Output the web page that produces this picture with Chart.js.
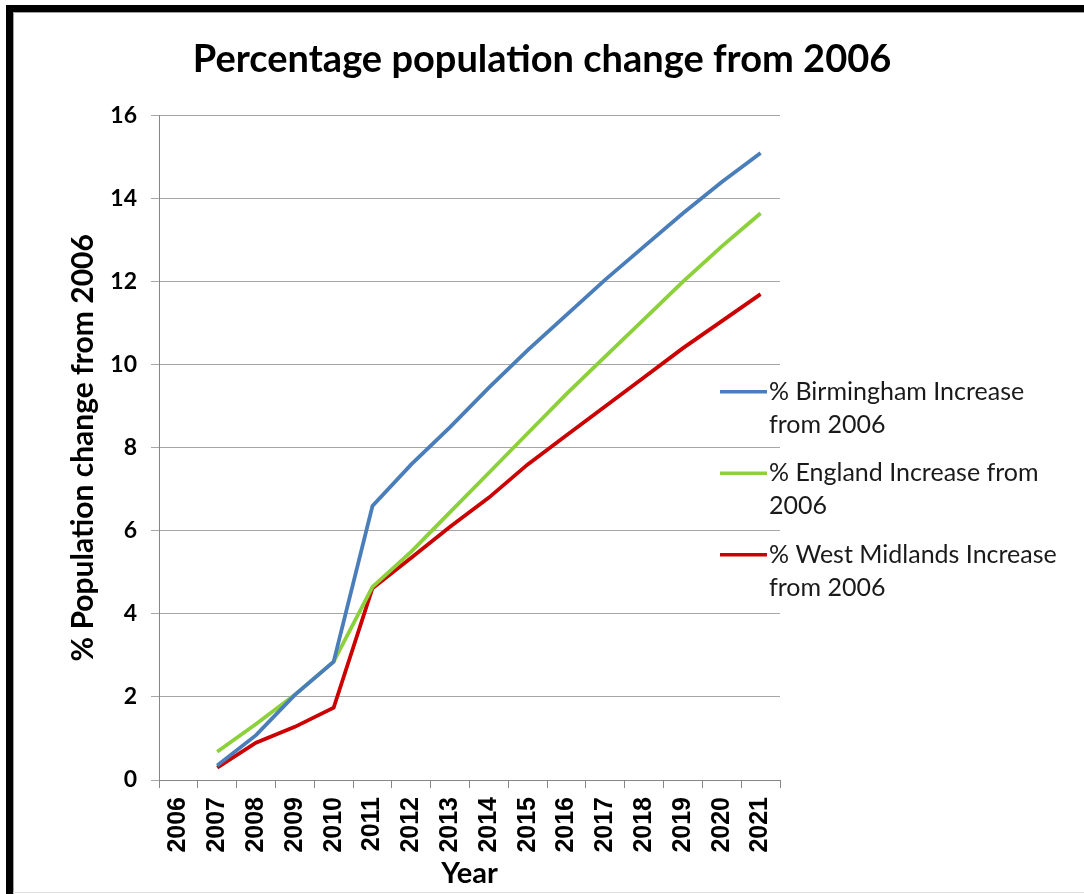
<!DOCTYPE html>
<html><head><meta charset="utf-8">
<script src="https://cdn.jsdelivr.net/npm/chart.js@4.4.1/dist/chart.umd.min.js"></script>
<style>
html,body{margin:0;padding:0;background:#fff;width:1084px;height:894px;overflow:hidden;}
#wrap{position:absolute;left:0;top:0;width:1084px;height:894px;}
.bk{position:absolute;background:#000;}
.gl{position:absolute;background:#a0a0a0;}
</style></head><body>
<div id="wrap"><canvas id="c" width="1084" height="894"></canvas></div>
<div class="bk" style="left:6px;top:5px;width:1078px;height:7px"></div>
<div class="bk" style="left:6px;top:5px;width:7px;height:889px"></div>
<div class="gl" style="left:13px;top:12px;width:1071px;height:1px"></div>
<div class="gl" style="left:13px;top:12px;width:1px;height:882px"></div>
<div class="gl" style="left:13px;top:892px;width:1071px;height:1px;background:#e0e0e0"></div>
<script>
const years = ['2006','2007','2008','2009','2010','2011','2012','2013','2014','2015','2016','2017','2018','2019','2020','2021'];
const birmingham = [null,0.35,1.08,2.05,2.85,6.6,7.6,8.5,9.45,10.35,11.2,12.05,12.85,13.65,14.4,15.1];
const england = [null,0.68,1.35,2.05,2.85,4.65,5.5,6.45,7.4,8.35,9.3,10.2,11.1,12.0,12.85,13.65];
const westMidlands = [null,0.3,0.9,1.28,1.74,4.62,5.35,6.1,6.8,7.6,8.3,9.0,9.7,10.4,11.05,11.7];
const seriesLabels = [['% Birmingham Increase','from 2006'],['% England Increase from','2006'],['% West Midlands Increase','from 2006']];
const yTicks = [0,2,4,6,8,10,12,14,16];
const colors = ['#4a7ebb','#8cd03c','#cc0000'];

const legendPlugin = {
  id:'sideLegend',
  afterDraw(chart){
    const ctx = chart.ctx;
    const a = chart.chartArea;
    const y0 = chart.scales.y;
    ctx.save();
    ctx.font = '25px Lato';
    ctx.fillStyle = '#1a1a1a';
    ctx.textBaseline = 'middle';
    chart.data.datasets.forEach((ds,i)=>{
      const cy = y0.getPixelForValue(9.35) + i*81.5;
      ctx.strokeStyle = ds.borderColor;
      ctx.lineWidth = 3.5;
      ctx.beginPath();
      ctx.moveTo(a.right-60, cy);
      ctx.lineTo(a.right-13, cy);
      ctx.stroke();
      seriesLabels[i].forEach((t,j)=>{
        ctx.fillText(t, a.right-11, cy + j*33);
      });
    });
    ctx.restore();
  }
};

new Chart(document.getElementById('c'), {
  type:'line',
  data:{
    labels: years,
    datasets:[
      {label:seriesLabels[0].join(' '), data:birmingham, borderColor:colors[0]},
      {label:seriesLabels[1].join(' '), data:england, borderColor:colors[1]},
      {label:seriesLabels[2].join(' '), data:westMidlands, borderColor:colors[2]}
    ].map(d=>Object.assign(d,{borderWidth:3.8,pointRadius:0,tension:0,fill:false,spanGaps:false,yAxisID:'y'}))
  },
  options:{
    responsive:false,
    animation:false,
    layout:{padding:{left:0,right:0,top:0,bottom:0}},
    plugins:{
      legend:{display:false},
      tooltip:{enabled:false},
      title:{display:true,text:'Percentage population change from 2006',
        font:{family:'Lato',size:38,weight:'bold'},color:'#000',
        padding:{top:37,bottom:33}}
    },
    scales:{
      x:{
        offset:true,
        afterFit(s){s.height = 114;},
        grid:{display:true,drawOnChartArea:false,drawTicks:true,tickLength:8,offset:true,color:'#868686'},
        border:{color:'#868686',width:1},
        ticks:{autoSkip:false,minRotation:90,maxRotation:90,padding:9,color:'#000',
          font:{family:'Liberation Sans',size:25,weight:'bold'}},
        title:{display:true,text:'Year',color:'#000',font:{family:'Lato',size:29,weight:'bold'},padding:{top:0,bottom:3}}
      },
      y:{
        min:0,max:16,
        afterFit(s){s.width = 159;},
        afterBuildTicks(s){s.ticks = yTicks.map(v=>({value:v}));},
        grid:{color:'#a6a6a6',tickLength:8,drawTicks:true},
        border:{color:'#868686',width:1},
        ticks:{padding:14,color:'#000',font:{family:'Lato',size:23,weight:'bold'}},
        title:{display:true,text:'% Population change from 2006',color:'#000',
          font:{family:'Lato',size:30,weight:'bold'},padding:{top:65,bottom:0}}
      },
      yPad:{
        position:'right',
        min:0,max:16,
        afterFit(s){s.width = 304;},
        grid:{display:false,drawOnChartArea:false},
        border:{display:false},
        ticks:{display:false}
      }
    }
  },
  plugins:[legendPlugin]
});
</script>
</body></html>
